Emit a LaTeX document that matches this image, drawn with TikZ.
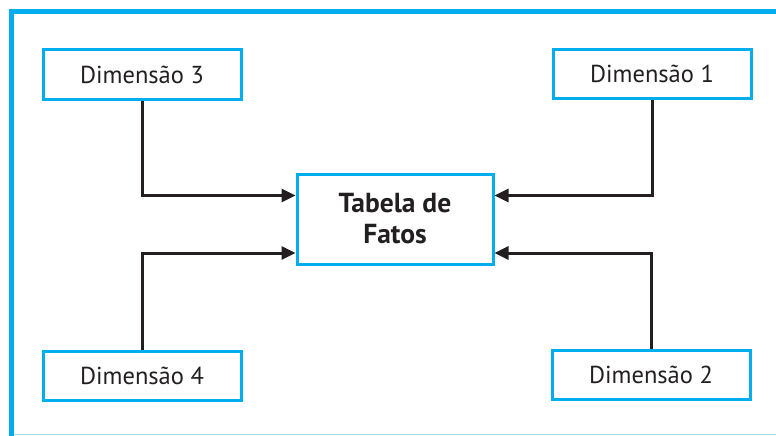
\documentclass[tikz,border=0pt]{standalone}
\usepackage{fontspec}
\setmainfont{PT Sans}
\usetikzlibrary{arrows.meta}
\definecolor{cyanline}{HTML}{00AEEF}
\definecolor{paleline}{HTML}{A8DDF2}
\definecolor{ink}{HTML}{231F20}
\begin{document}
\begin{tikzpicture}[x=1pt,y=-1pt,
  dimbox/.style={draw=cyanline,line width=3pt,fill=white,minimum width=198pt,minimum height=49pt,inner sep=0pt,font=\fontsize{24.5}{26}\selectfont,text=ink},
  factbox/.style={draw=cyanline,line width=3pt,fill=white,minimum width=196pt,minimum height=90pt,inner sep=0pt,align=center,font=\fontsize{27.5}{31}\selectfont\bfseries,text=ink},
  link/.style={draw=ink,line width=3pt,-{Triangle[length=14pt,width=13pt]}}]
\useasboundingbox (0,0) rectangle (776,436);
% outer frame
\fill[white] (0,0) rectangle (776,436);
\draw[paleline,line width=1pt] (12,434.5) -- (776,434.5);
\draw[cyanline,line width=5pt] (11.5,436) -- (11.5,11.5) -- (776,11.5);
% boxes
\node[dimbox] (d3) at (142,74.5) {Dimensão 3};
\node[dimbox] (d1) at (652,74) {Dimensão 1};
\node[dimbox] (d4) at (142,376) {Dimensão 4};
\node[dimbox] (d2) at (651,374.5) {Dimensão 2};
\node[factbox] (ft) at (395,219) {Tabela de\\Fatos};
% connectors
\coordinate (lt) at ([yshift=23.5pt]ft.west);
\coordinate (lb) at ([yshift=-34pt]ft.west);
\coordinate (rt) at ([yshift=23.5pt]ft.east);
\coordinate (rb) at ([yshift=-34pt]ft.east);
\draw[link] (d3.south) |- (lt);
\draw[link] (d4.north) |- (lb);
\draw[link] (d1.south) |- (rt);
\draw[link] (d2.north) |- (rb);
\end{tikzpicture}
\end{document}
